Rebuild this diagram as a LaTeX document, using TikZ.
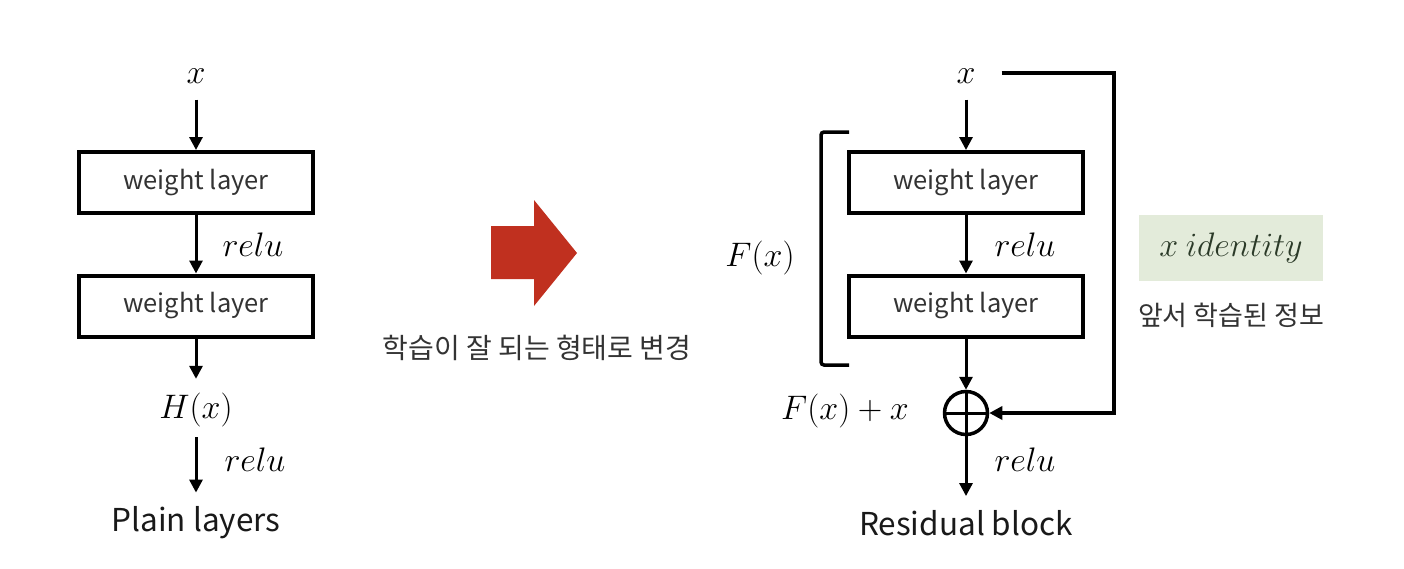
\documentclass[tikz,border=0pt]{standalone}
\usepackage{fix-cm}
\usepackage{fontspec}
\setmainfont{Noto Sans CJK KR}
\usetikzlibrary{arrows.meta}
\definecolor{redarrow}{HTML}{C0301F}
\definecolor{idgreen}{HTML}{E3EBDA}
\definecolor{idtext}{HTML}{2B3A28}
\definecolor{boxtext}{HTML}{333333}
\begin{document}
\begin{tikzpicture}[x=1pt,y=-1pt,
  wl/.style={draw,line width=4pt,minimum width=234pt,minimum height=61pt,inner sep=0pt,
    text=boxtext,font=\fontsize{25.5}{28}\selectfont},
  arr/.style={line width=3pt,-{Triangle[length=13pt,width=13pt]}},
  mth/.style={inner sep=0pt,font=\fontsize{34}{38}\selectfont},
  captxt/.style={inner sep=0pt,text=black!90,font=\fontsize{31.5}{34}\selectfont},
  kor/.style={inner sep=0pt,text=black!80,font=\fontsize{28}{31}\selectfont},
  plus/.style={draw,circle,line width=3.5pt,minimum size=43pt,inner sep=0pt},
  thickline/.style={line width=3.5pt}]
\useasboundingbox (0,0) rectangle (1404,568);
% ---------- Plain layers ----------
\node[mth] (xl) at (196,76) {$x$};
\node[wl] (l1) at (196,182.5) {weight layer};
\node[wl] (l2) at (196,306) {weight layer};
\node[mth] (hx) at (196,410) {$H(x)$};
\node[captxt] (pl) at (196,523) {Plain layers};
\node[mth] (rl1) at (253,245) {$relu$};
\node[mth] (rl2) at (255,460) {$relu$};
\draw[arr,shorten <=16pt] (xl.south) -- (l1.north);
\draw[arr] (l1.south) -- (l2.north);
\draw[arr,shorten >=14pt] (l2.south) -- (hx.north);
\draw[arr,shorten <=10pt,shorten >=14pt] (hx.south) -- (pl.north);
% ---------- middle arrow ----------
\fill[redarrow] (491,226) -- (534,226) -- (534,200) -- (577,253) -- (534,306) -- (534,279) -- (491,279) -- cycle;
\node[kor] (mid) at (537,348) {학습이 잘 되는 형태로 변경};
% ---------- Residual block ----------
\node[mth] (xr) at (966,76) {$x$};
\node[wl] (r1) at (966,182.5) {weight layer};
\node[wl] (r2) at (966,306) {weight layer};
\node[plus] (pc) at (966,413) {};
\draw[line width=3pt] (pc.north) -- (pc.south) (pc.west) -- (pc.east);
\node[mth] (fxx) at (845,411) {$F(x)+x$};
\node[captxt] (rb) at (966,523) {Residual block};
\node[mth] (rr1) at (1025,245) {$relu$};
\node[mth] (rr2) at (1025,460) {$relu$};
\node[mth] (fx) at (760,258) {$F(x)$};
\draw[arr,shorten <=16pt] (xr.south) -- (r1.north);
\draw[arr] (r1.south) -- (r2.north);
\draw[arr] (r2.south) -- (pc.north);
\draw[arr,shorten >=14pt] (pc.south) -- (rb.north);
\coordinate (st) at (1114,73);
\coordinate (sb) at (1114,413);
\draw[arr,line width=3.5pt,shorten <=26pt,line join=miter] (xr.east |- st) -- (st) -- (sb) -- (pc.east);
\draw[thickline,rounded corners=3pt] (849,132) -- (821,132) -- (821,365) -- (849,365);
% ---------- identity ----------
\node[fill=idgreen,minimum width=184pt,minimum height=66pt,inner sep=0pt,text=idtext,
  font=\fontsize{34}{38}\selectfont] (id) at (1231,248) {$x\ identity$};
\node[kor,font=\fontsize{27}{30}\selectfont] (prev) at (1231,315) {앞서 학습된 정보};
\end{tikzpicture}
\end{document}
